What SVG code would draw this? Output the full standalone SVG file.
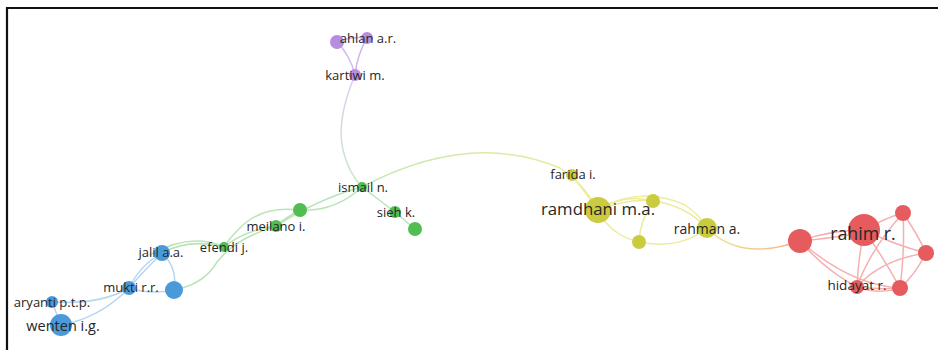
<svg xmlns="http://www.w3.org/2000/svg" width="938" height="350" viewBox="0 0 938 350">
  <style>
    .lbl { font-family: "Open Sans", "Noto Sans", sans-serif; font-size: 13px; fill: #262626; text-anchor: middle; dominant-baseline: central; }
    .e { fill: none; stroke-width: 1.5; stroke-linecap: round; }
    .ep { stroke: #d2b8f0; }
    .eg { stroke: #b8e4b8; }
    .eb { stroke: #b6d6f3; }
    .ey { stroke: #ecec9c; }
    .er { stroke: #f6b0b0; }
    .np { fill: #b68de0; }
    .ng { fill: #52bd52; }
    .nb { fill: #4a9ad9; }
    .ny { fill: #cbcb40; }
    .nr { fill: #e65c5e; }
  </style>
  <defs>
    <linearGradient id="gy" x1="0" y1="0" x2="1" y2="0">
      <stop offset="0" stop-color="#c4e7b4"/>
      <stop offset="1" stop-color="#ecec9a"/>
    </linearGradient>
    <linearGradient id="yr" x1="0" y1="0" x2="1" y2="0">
      <stop offset="0" stop-color="#ebe68a"/>
      <stop offset="1" stop-color="#f8b298"/>
    </linearGradient>
    <linearGradient id="pg" x1="0" y1="0" x2="0" y2="1">
      <stop offset="0" stop-color="#dccbf3"/>
      <stop offset="1" stop-color="#c8eac8"/>
    </linearGradient>
  </defs>

  <rect width="938" height="350" fill="#ffffff"/>
  <!-- frame: top and left edges -->
  <path d="M7 350 V8 H938" fill="none" stroke="#111" stroke-width="2.2"/>

  <g id="connectors">
    <!-- purple cluster -->
    <path class="e ep" d="M337 42 Q352 36 367 38"/>
    <path class="e ep" d="M337 42 Q350 55 355 75"/>
    <path class="e ep" d="M367 38 Q357 55 355 75"/>
    <path class="e" stroke="url(#pg)" d="M355 75 Q336 120 343 150 Q348 172 362 187"/>
    <!-- green to yellow bridge -->
    <path class="e" stroke="url(#gy)" stroke-width="1.8" d="M362 187 Q470 130 560 168 Q585 185 598 210"/>
    <path class="e ey" d="M572 175 Q585 192 598 210"/>
    <!-- green cluster -->
    <path class="e eg" d="M362 187 L395 212 L415 229"/>
    <path class="e eg" d="M362 187 Q335 212 300 210"/>
    <path class="e eg" d="M362 187 Q320 198 276 226"/>
    <path class="e eg" d="M300 210 Q285 218 276 226"/>
    <path class="e eg" d="M300 210 Q260 205 238 230 Q228 240 224 247"/>
    <path class="e eg" d="M276 226 Q245 230 224 247"/>
    <path class="e eg" d="M276 226 Q230 240 213 268 Q200 285 174 290"/>
    <path class="e eg" d="M224 247 Q190 238 162 253"/>
    <path class="e eg" d="M224 247 Q190 232 150 255"/>
    <!-- blue cluster -->
    <path class="e eb" d="M162 253 Q140 265 129 288"/>
    <path class="e eb" d="M162 253 Q178 268 174 290"/>
    <path class="e eb" d="M162 253 Q140 275 129 288"/>
    <path class="e eb" d="M129 288 Q150 295 174 290"/>
    <path class="e eb" d="M129 288 Q100 305 52 302"/>
    <path class="e eb" d="M129 288 Q100 318 61 325"/>
    <path class="e eb" d="M52 302 L61 325"/>
    <!-- yellow cluster -->
    <path class="e ey" d="M598 210 Q625 193 653 201"/>
    <path class="e ey" d="M598 210 Q628 198 653 201"/>
    <path class="e ey" d="M598 210 Q610 235 639 242"/>
    <path class="e ey" d="M653 201 Q640 220 639 242"/>
    <path class="e ey" d="M639 242 Q680 250 707 228"/>
    <path class="e ey" d="M653 201 Q685 205 707 228"/>
    <path class="e ey" d="M598 210 Q640 185 685 205 Q700 215 707 228"/>
    <path class="e" stroke="url(#yr)" stroke-width="1.8" d="M707 228 Q740 262 800 241"/>
    <!-- red cluster -->
    <path class="e er" d="M800 241 Q830 230 864 230"/>
    <path class="e er" d="M800 241 Q835 238 864 232"/>
    <path class="e er" d="M800 241 Q825 270 857 287"/>
    <path class="e er" d="M800 241 Q850 285 900 288"/>
    <path class="e er" d="M864 230 Q885 218 903 213"/>
    <path class="e er" d="M864 230 Q895 245 926 253"/>
    <path class="e er" d="M864 230 Q858 260 857 287"/>
    <path class="e er" d="M864 230 Q885 260 900 288"/>
    <path class="e er" d="M903 213 Q918 235 926 253"/>
    <path class="e er" d="M903 213 Q870 250 857 287"/>
    <path class="e er" d="M903 213 Q905 250 900 288"/>
    <path class="e er" d="M926 253 Q880 260 857 287"/>
    <path class="e er" d="M926 253 Q915 275 900 288"/>
    <path class="e er" d="M857 287 Q880 295 900 288"/>
    <path class="e er" d="M857 287 Q880 290 900 288"/>
  </g>

  <!-- purple -->
  <g id="n-ahlan-1"><circle class="np" cx="337" cy="42" r="7"/></g>
  <g id="n-ahlan"><circle class="np" cx="367" cy="38" r="6"/><text class="lbl" x="368" y="38">ahlan a.r.</text></g>
  <g id="n-kartiwi"><circle class="np" cx="355" cy="75" r="6"/><text class="lbl" x="355" y="75">kartiwi m.</text></g>
  <!-- green -->
  <g id="n-ismail"><circle class="ng" cx="362" cy="187" r="5"/><text class="lbl" x="363" y="187">ismail n.</text></g>
  <g id="n-sieh"><circle class="ng" cx="395" cy="212" r="6"/><text class="lbl" x="396" y="212">sieh k.</text></g>
  <g id="n-green-1"><circle class="ng" cx="415" cy="229" r="7"/></g>
  <g id="n-green-2"><circle class="ng" cx="300" cy="210" r="7"/></g>
  <g id="n-meilano"><circle class="ng" cx="276" cy="226" r="6"/><text class="lbl" x="276" y="226">meilano i.</text></g>
  <g id="n-efendi"><circle class="ng" cx="224" cy="247" r="5"/><text class="lbl" x="224" y="247">efendi j.</text></g>
  <!-- blue -->
  <g id="n-jalil"><circle class="nb" cx="162" cy="253" r="8"/><text class="lbl" x="161" y="252">jalil a.a.</text></g>
  <g id="n-blue-1"><circle class="nb" cx="174" cy="290" r="9"/></g>
  <g id="n-mukti"><circle class="nb" cx="129" cy="288" r="7"/><text class="lbl" x="131" y="287">mukti r.r.</text></g>
  <g id="n-aryanti"><circle class="nb" cx="52" cy="302" r="6"/><text class="lbl" x="52" y="302">aryanti p.t.p.</text></g>
  <g id="n-wenten"><circle class="nb" cx="61" cy="325" r="11"/><text class="lbl" x="63" y="325" style="font-size:14.5px">wenten i.g.</text></g>
  <!-- yellow -->
  <g id="n-farida"><circle class="ny" cx="572" cy="175" r="6"/><text class="lbl" x="573" y="174">farida i.</text></g>
  <g id="n-yellow-1"><circle class="ny" cx="653" cy="201" r="7"/></g>
  <g id="n-yellow-2"><circle class="ny" cx="639" cy="242" r="7"/></g>
  <g id="n-ramdhani"><circle class="ny" cx="598" cy="210" r="13"/><text class="lbl" x="598" y="208" style="font-size:16.8px">ramdhani m.a.</text></g>
  <g id="n-rahman"><circle class="ny" cx="707" cy="228" r="10"/><text class="lbl" x="707" y="228" style="font-size:14px">rahman a.</text></g>
  <!-- red -->
  <g id="n-red-1"><circle class="nr" cx="800" cy="241" r="12"/></g>
  <g id="n-red-2"><circle class="nr" cx="903" cy="213" r="8"/></g>
  <g id="n-red-3"><circle class="nr" cx="926" cy="253" r="8"/></g>
  <g id="n-red-4"><circle class="nr" cx="900" cy="288" r="8"/></g>
  <g id="n-rahim"><circle class="nr" cx="864" cy="230" r="16"/><text class="lbl" x="863" y="233" style="font-size:17.8px">rahim r.</text></g>
  <g id="n-hidayat"><circle class="nr" cx="857" cy="287" r="7"/><text class="lbl" x="857" y="285" style="font-size:13.5px">hidayat r.</text></g>
</svg>
